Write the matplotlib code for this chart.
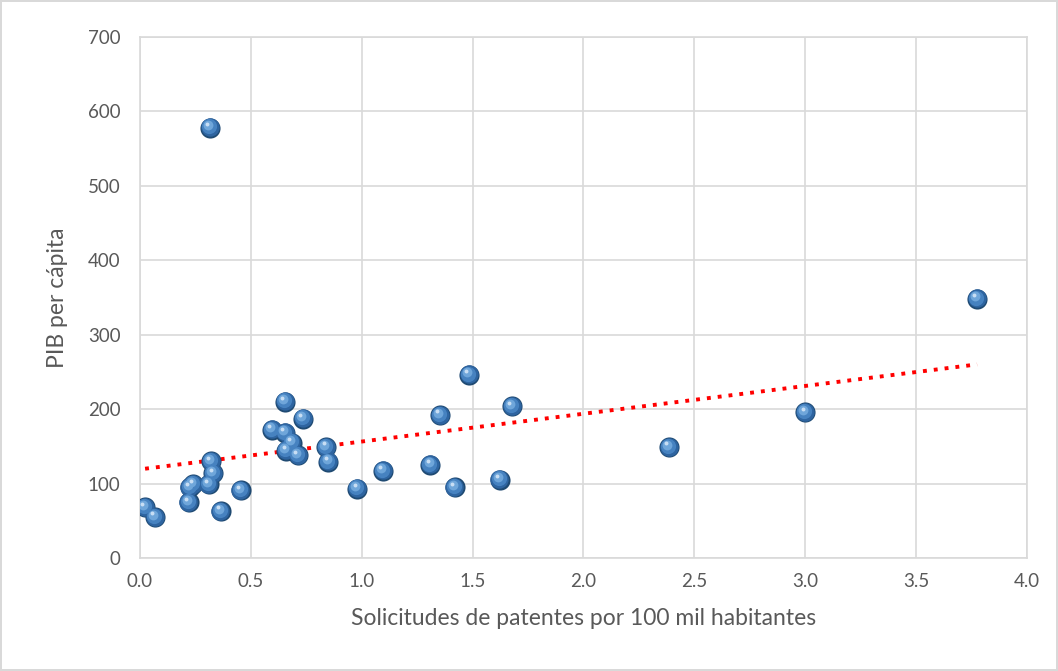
import matplotlib
matplotlib.use("Agg")
import matplotlib.pyplot as plt
import matplotlib.transforms as mtransforms
import numpy as np

# solicitudes de patentes por 100 mil habitantes vs PIB per capita
patentes = [0.023, 0.068, 0.22, 0.225, 0.24, 0.31, 0.32, 0.33, 0.365, 0.455,
            0.595, 0.654, 0.654, 0.66, 0.685, 0.713, 0.735, 0.84, 0.85, 0.98,
            1.096, 1.31, 1.353, 1.42, 1.484, 1.623, 1.678, 2.386, 3.0, 3.775,
            0.316]
pib = [68, 55, 75, 95, 99, 99, 130, 114, 63, 91,
       172, 210, 168, 144, 155, 138, 187, 149, 129, 93,
       117, 125, 192, 95, 246, 105, 204, 149, 196, 348,
       578]

plt.rcParams['font.family'] = ['Lato', 'DejaVu Sans']

fig = plt.figure(figsize=(10.58, 6.71), dpi=100)
fig.patch.set_edgecolor('#d9d9d9')
fig.patch.set_linewidth(1.5)
ax = fig.add_axes([0.1323, 0.1684, 0.8384, 0.7765])

x = np.array(patentes)
y = np.array(pib)

# linear trendline like excel
m, b = np.polyfit(x, y, 1)
xt = np.array([x.min(), x.max()])
ax.plot(xt, m * xt + b, color='red', linestyle=(0, (1, 1.8)), linewidth=2.8, zorder=2)

# fake 3D sphere markers: stacked circles shifted to upper-left
layers = [
    (210, '#1f4a72', 0.0, 0.0),
    (175, '#2e64a0', -0.3, 0.4),
    (120, '#4682c0', -0.8, 1.0),
    (50, '#6fa6da', -1.4, 1.8),
    (8, '#c8def4', -1.9, 2.6),
]
for s, c, dx, dy in layers:
    off = mtransforms.ScaledTranslation(dx / 72, dy / 72, fig.dpi_scale_trans)
    ax.scatter(x, y, s=s, color=c, linewidths=0, transform=ax.transData + off, zorder=3)

ax.set_xlim(0, 4.0)
ax.set_ylim(0, 700)
ax.set_xticks(np.arange(0, 4.01, 0.5))
ax.set_xticklabels(['%.1f' % v for v in np.arange(0, 4.01, 0.5)])
ax.set_yticks(np.arange(0, 701, 100))
ax.grid(True, color='#d9d9d9', linewidth=1.2)
ax.set_axisbelow(True)
for sp in ax.spines.values():
    sp.set_color('#d9d9d9')
    sp.set_linewidth(1.2)
ax.tick_params(length=0, labelsize=13.5, colors='#595959')
ax.tick_params(axis='y', pad=14)
ax.tick_params(axis='x', pad=11)

ax.set_xlabel('Solicitudes de patentes por 100 mil habitantes', fontsize=16.5, color='#595959', labelpad=13)
ax.set_ylabel('PIB per cápita', fontsize=16.5, color='#595959', labelpad=14)

fig.savefig('out.png', dpi=100, edgecolor=fig.get_edgecolor())
